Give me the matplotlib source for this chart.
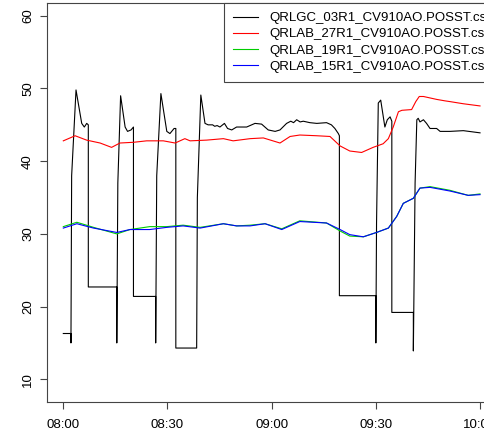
import matplotlib
matplotlib.use('Agg')
import matplotlib.pyplot as plt

plt.rcParams['font.family'] = ['Liberation Sans', 'DejaVu Sans']

# Time in minutes after 08:00
tick_pos = [0, 30, 60, 90, 120]
tick_labels = ['08:00', '08:30', '09:00', '09:30', '10:00']
y_ticks = [10, 20, 30, 40, 50, 60]

# QRLGC_03R1 (black)
gc03_t = [0, 2.2, 2.2, 2.4, 3.66, 5.3, 6.05, 6.74, 7.2, 7.2, 15.4, 15.4, 15.7, 16.5,
          17.8, 18.5, 19.5, 20.2, 20.2, 26.6, 26.6, 26.9, 28.1, 29.8, 30.7, 31.9, 32.4,
          32.4, 38.4, 38.6, 39.6, 40.8, 41.7, 43.0, 43.6, 44.3, 45.1, 46.4, 47.3, 48.5,
          49.9, 52.8, 55.2, 57.1, 59.0, 61.0, 62.4, 64.3, 65.5, 66.3, 67.2, 68.2, 69.1,
          71.0, 73.0, 75.8, 77.2, 78.2, 79.2, 79.5, 79.5, 90.0, 90.0, 90.2, 90.7, 91.4,
          92.6, 93.3, 94.1, 94.6, 94.6, 100.8, 100.8, 101.3, 101.8, 102.2, 102.7, 103.7,
          104.6, 105.6, 107.5, 108.5, 111.3, 115.2, 120.0]
gc03_v = [16.3, 16.3, 15.0, 38.0, 49.8, 45.2, 44.7, 45.2, 45.0, 22.7, 22.7, 15.0, 37.0, 49.0,
          44.7, 44.1, 44.3, 44.7, 21.4, 21.4, 15.0, 38.0, 49.3, 44.1, 43.8, 44.5, 44.5,
          14.3, 14.3, 35.0, 49.1, 45.2, 45.0, 45.0, 44.8, 44.9, 44.7, 45.2, 44.5, 44.3,
          44.7, 44.7, 45.2, 45.1, 44.3, 44.1, 44.3, 45.2, 45.5, 45.3, 45.7, 45.4, 45.5,
          45.3, 45.2, 45.3, 45.0, 44.5, 43.8, 43.5, 21.5, 21.5, 15.0, 31.5, 48.0, 48.4,
          44.7, 45.7, 46.1, 45.5, 19.2, 19.2, 13.9, 37.0, 45.7, 45.9, 45.4, 45.7, 45.2,
          44.5, 44.5, 44.1, 44.1, 44.2, 43.9]

# QRLAB_27R1 (red)
ab27_t = [0, 3.4, 6.7, 10.6, 13.9, 16.3, 20.2, 24.0, 28.8, 32.2, 35.0, 36.5, 41.3, 46.1,
          48.9, 53.8, 57.6, 62.4, 65.3, 68.1, 73.0, 76.8, 79.7, 82.5, 85.9, 89.2, 92.1,
          93.6, 95.0, 96.5, 97.5, 100.3, 101.5, 102.5, 103.7, 107.5, 109.9, 111.3, 115.2,
          120.0]
ab27_v = [42.8, 43.5, 42.9, 42.5, 41.9, 42.5, 42.6, 42.8, 42.8, 42.5, 43.1, 42.8, 42.9, 43.1,
          42.8, 43.1, 43.2, 42.5, 43.4, 43.6, 43.5, 43.4, 42.1, 41.4, 41.2, 41.9, 42.4,
          43.1, 44.7, 46.8, 47.0, 47.1, 48.2, 48.9, 48.9, 48.5, 48.3, 48.2, 47.9,
          47.6]

# QRLAB_19R1 (green)
ab19_t = [0, 3.9, 8.7, 15.4, 19.2, 24.9, 29.8, 34.5, 39.4, 46.1, 49.9, 53.8, 58.1, 62.9,
          68.1, 75.8, 79.7, 82.5, 86.4, 90.2, 93.6, 96.0, 97.9, 100.8, 102.7, 105.6,
          111.3, 116.6, 120.0]
ab19_v = [31.0, 31.6, 30.9, 30.0, 30.6, 31.0, 31.0, 31.2, 30.9, 31.4, 31.1, 31.2, 31.4, 30.7,
          31.8, 31.5, 30.4, 29.7, 29.6, 30.2, 30.8, 32.4, 34.2, 34.9, 36.3, 36.5,
          36.0, 35.3, 35.5]

# QRLAB_15R1 (blue)
ab15_t = [0, 3.9, 8.7, 15.4, 19.2, 24.9, 29.8, 34.5, 39.4, 46.1, 49.9, 53.8, 58.1, 62.9,
          68.1, 75.8, 79.7, 82.5, 86.4, 90.2, 93.6, 96.0, 97.9, 100.8, 102.7, 105.6,
          111.3, 116.6, 120.0]
ab15_v = [30.8, 31.4, 30.8, 30.2, 30.6, 30.6, 30.9, 31.1, 30.8, 31.4, 31.1, 31.1, 31.4, 30.6,
          31.7, 31.5, 30.6, 29.9, 29.6, 30.2, 30.8, 32.4, 34.2, 34.9, 36.3, 36.4,
          35.9, 35.3, 35.4]

labels = ['QRLGC_03R1_CV910AO.POSST.csv', 'QRLAB_27R1_CV910AO.POSST.csv',
          'QRLAB_19R1_CV910AO.POSST.csv', 'QRLAB_15R1_CV910AO.POSST.csv']
colors = ['black', '#FF0000', '#00CD00', '#0000FF']

W, H = 484, 433
fig = plt.figure(figsize=(W / 100, H / 100), dpi=100)
# plot region runs past the right edge of the image, as in the original
ax = fig.add_axes([47.3 / W, (H - 401.7) / H, 449.4 / W, 399.0 / H])

lw = 0.8
ax.plot(gc03_t, gc03_v, color=colors[0], lw=lw, label=labels[0])
ax.plot(ab27_t, ab27_v, color=colors[1], lw=lw, label=labels[1])
ax.plot(ab19_t, ab19_v, color=colors[2], lw=lw, label=labels[2])
ax.plot(ab15_t, ab15_v, color=colors[3], lw=lw, label=labels[3])

ax.set_xlim(-4.61, 124.8)
ax.set_ylim(6.92, 61.8)
ax.set_xticks(tick_pos)
ax.set_xticklabels(tick_labels)
ax.set_yticks(y_ticks)
ax.tick_params(axis='both', direction='out', length=5, width=0.8, labelsize=9.5,
               color='#444444')
ax.tick_params(axis='x', pad=7.5)
ax.tick_params(axis='y', pad=4.5, labelrotation=90)
for lab in ax.get_yticklabels():
    lab.set_va('center')
for sp in ax.spines.values():
    sp.set_color('#444444')
    sp.set_linewidth(0.8)

leg = ax.legend(loc='upper left', bbox_to_anchor=(224 / W, 1 - 2.7 / H),
                bbox_transform=fig.transFigure, fontsize=9.5, frameon=True,
                fancybox=False, framealpha=1, edgecolor='#444444',
                borderpad=0.7, handlelength=1.85, handletextpad=0.9,
                labelspacing=0.3, borderaxespad=0)
leg.get_frame().set_linewidth(0.8)

fig.savefig('out.png', dpi=100)
